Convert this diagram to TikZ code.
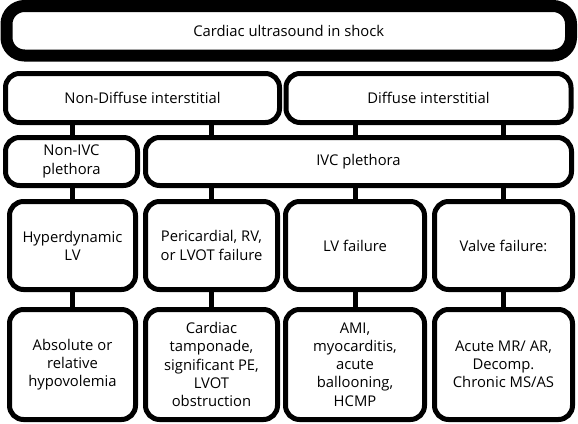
\documentclass[tikz,border=0pt]{standalone}
\usepackage{fontspec}
\setmainfont{Open Sans}
\begin{document}
\begin{tikzpicture}[x=1pt, y=-1pt]
	\tikzstyle{box}   = [draw=black, fill=white, line width=5pt, rounded corners=14pt, align=center, inner sep=0pt, font=\fontsize{14.8}{18.2}\selectfont]
	\tikzstyle{title} = [box, line width=12pt, rounded corners=18pt]
	\tikzstyle{link}  = [line width=5pt]

	\useasboundingbox (0,0) rectangle (578,423);

	\node[title, minimum width=564.5pt, minimum height=49.5pt] (shock) at (288.75,30.75) {Cardiac ultrasound in shock};

	\foreach \name/\x/\w/\text in {nondiff/142.5/274/Non-Diffuse interstitial, diff/428.5/285/Diffuse interstitial}
		\node[box, minimum width=\w pt, minimum height=49pt] (\name) at (\x,98) {\text};

	\foreach \name/\x/\w/\text in {nonivc/71.5/132/{Non-IVC\\plethora}, ivc/358.5/426/IVC plethora}
		\node[box, minimum width=\w pt, minimum height=48pt] (\name) at (\x,161.5) {\text};

	\foreach \name/\x/\w/\text in {hyper/72.5/126/{Hyperdynamic\\LV}, peri/211.5/132/{Pericardial, RV,\\or LVOT failure}, lvf/355/139/LV failure, valve/503.5/138/Valve failure:}
		\node[box, minimum width=\w pt, minimum height=88pt] (\name) at (\x,245.5) {\text};

	\foreach \name/\x/\w/\text in {hypo/72.5/126/{Absolute or\\relative\\hypovolemia}, tamp/211.5/132/{Cardiac\\tamponade,\\significant PE,\\LVOT\\obstruction}, ami/355/139/{AMI,\\myocarditis,\\acute\\ballooning,\\HCMP}, mr/503.5/138/{Acute MR/ AR,\\Decomp.\\Chronic MS/AS}}
		\node[box, minimum width=\w pt, minimum height=110pt] (\name) at (\x,364.5) {\text};

	\foreach \from/\to/\col in {nondiff/nonivc/hyper, nondiff/ivc/peri, diff/ivc/lvf, diff/ivc/valve}
		\draw[link] (\from.south -| \col) -- (\to.north -| \col);

	\foreach \from/\to in {nonivc/hyper, ivc/peri, ivc/lvf, ivc/valve}
		\draw[link] (\from.south -| \to) -- (\to.north);

	\foreach \from/\to in {hyper/hypo, peri/tamp, lvf/ami, valve/mr}
		\draw[link] (\from.south) -- (\to.north);
\end{tikzpicture}
\end{document}
